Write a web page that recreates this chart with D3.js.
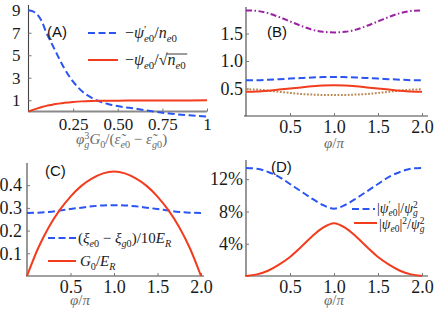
<!DOCTYPE html>
<html><head><meta charset="utf-8">
<script src="https://cdn.jsdelivr.net/npm/d3@7"></script>
</head><body style="margin:0">
<svg id="c" width="443" height="316"></svg>
<script>
// ---------- data ----------
const xA = [0,0.025,0.05,0.075,0.1,0.125,0.15,0.2,0.25,0.3,0.35,0.4,0.45,0.5,0.6,0.7,0.8,0.9,1.0];
const aBlue = [9.0,8.9,8.6,8.0,7.0,6.2,5.4,3.85,2.65,1.8,1.25,0.88,0.65,0.48,0.25,0.0,-0.2,-0.34,-0.46];
const aRed  = [0,0.14,0.28,0.4,0.5,0.58,0.66,0.77,0.85,0.9,0.93,0.95,0.96,0.965,0.97,0.975,0.98,0.985,0.99];
const aYTicks = [1,3,5,7,9];
const aXTicks = [0.25,0.5,0.75,1];
const aXLabels = ["0.25","0.50","0.75","1"];

const phi = [0,0.125,0.25,0.375,0.5,0.625,0.75,0.875,1,1.125,1.25,1.375,1.5,1.625,1.75,1.875,2];
const bPurple = [1.92,1.91,1.87,1.80,1.72,1.64,1.57,1.53,1.52,1.53,1.57,1.64,1.72,1.80,1.87,1.91,1.92];
const bBlue   = [0.65,0.652,0.66,0.67,0.68,0.69,0.70,0.707,0.71,0.707,0.70,0.69,0.68,0.67,0.66,0.652,0.65];
const bRed    = [0.44,0.445,0.46,0.48,0.50,0.52,0.54,0.555,0.56,0.555,0.54,0.52,0.50,0.48,0.46,0.445,0.44];
const bBrown  = [0.485,0.48,0.462,0.44,0.42,0.40,0.39,0.382,0.38,0.382,0.39,0.40,0.42,0.44,0.462,0.48,0.485];
const bYTicks = [0.5,1.0,1.5];
const phiTicks = [0.5,1.0,1.5,2.0];

const cRed  = [0,0.12,0.215,0.29,0.35,0.397,0.43,0.452,0.46,0.452,0.43,0.397,0.35,0.29,0.215,0.12,0];
const cBlue = [0.278,0.279,0.282,0.288,0.295,0.301,0.307,0.311,0.312,0.311,0.307,0.301,0.295,0.288,0.282,0.279,0.278];
const cYTicks = [0.1,0.2,0.3,0.4];

const dBlue = [13.4,13.3,12.9,12.3,11.4,10.5,9.6,8.8,8.35,8.8,9.6,10.5,11.4,12.3,12.9,13.3,13.4];
const dRed  = [0,0.2,0.65,1.4,2.35,3.6,4.9,6.0,6.55,6.0,4.9,3.6,2.35,1.4,0.65,0.2,0];
const dYTicks = [4,8,12];

// ---------- style ----------
const BLUE = "#2b55f2", RED = "#f23c1e", PURPLE = "#9a22a2", BROWN = "#b98850";
const SERIF = '"Liberation Serif"';
const SANS = '"Liberation Sans"';
const AX = "#444", TICKTXT = "#1a1a1a", TITLE = "#6a6a6a";

const svg = d3.select("#c");

// parts: [text, flags]  i=italic b=subscript p=superscript k=stack under/over previous
function math(sel, x, y, parts, fs, fill) {
  const t = sel.append("text").attr("x", x).attr("y", y)
    .style("font-family", SERIF).style("font-size", fs + "px").attr("fill", fill);
  let cur = 0, prev = null;
  parts.forEach(([s, st]) => {
    st = st || "";
    const off = st.includes("b") ? fs*0.25 : st.includes("p") ? -fs*0.33 : 0;
    const sp = t.append("tspan").attr("dy", off - cur).style("font-family", SERIF).text(s);
    cur = off;
    if (st.includes("b") || st.includes("p")) sp.style("font-size", (fs*0.68) + "px");
    if (st.includes("i")) sp.style("font-style", "italic");
    if (st.includes("k") && prev) sp.attr("dx", -prev.node().getComputedTextLength());
    prev = sp;
  });
  return t;
}

function panel(opt) {
  const g = svg.append("g");
  const x = d3.scaleLinear().domain(opt.xd).range(opt.xr);
  const y = d3.scaleLinear().domain(opt.yd).range(opt.yr);
  g.append("line").attr("x1", opt.xr[0]).attr("x2", opt.xr[0])
    .attr("y1", opt.yTop).attr("y2", opt.yBot).attr("stroke", AX).attr("stroke-width", 1.1);
  g.append("line").attr("x1", opt.xLeft).attr("x2", opt.xRight)
    .attr("y1", y(0)).attr("y2", y(0))
    .attr("stroke", opt.xAxisColor || AX).attr("stroke-width", opt.xAxisWidth || 1.1);
  const yt = g.append("g").attr("transform", `translate(${opt.xr[0]},0)`)
    .call(d3.axisLeft(y).tickValues(opt.yTicks).tickSize(-3).tickPadding(opt.yPad || 5)
      .tickFormat((d,i) => opt.yLabels[i]));
  const xt = g.append("g").attr("transform", `translate(0,${y(0)})`)
    .call(d3.axisBottom(x).tickValues(opt.xTicks).tickSize(-3).tickPadding(opt.xPad || 6)
      .tickFormat((d,i) => opt.xLabels[i]));
  [yt, xt].forEach(a => {
    a.attr("font-family", null).attr("font-size", null);
    a.select(".domain").remove();
    a.selectAll(".tick line").attr("stroke", "#777");
    a.selectAll(".tick text").style("font-family", SERIF).style("font-size", opt.fs + "px")
      .attr("fill", TICKTXT);
  });
  return {g, x, y};
}

function curve(p, xs, ys, color, dash, w) {
  const line = d3.line().x((d,i) => p.x(xs[i])).y(d => p.y(d)).curve(d3.curveMonotoneX);
  p.g.append("path").datum(ys).attr("d", line).attr("fill", "none")
    .attr("stroke", color).attr("stroke-width", w || 2)
    .attr("stroke-dasharray", dash || null);
}

function legLine(g, x1, x2, y, color, dash) {
  g.append("line").attr("x1", x1).attr("x2", x2).attr("y1", y).attr("y2", y)
    .attr("stroke", color).attr("stroke-width", 2).attr("stroke-dasharray", dash || null);
}

function label(g, x, y, s) {
  g.append("text").attr("x", x).attr("y", y).style("font-family", SANS)
    .style("font-size", "15px").attr("fill", "#111").text(s);
}

// ---------- Panel A ----------
const A = panel({xd:[0,1], xr:[28.5,207], yd:[0,9], yr:[111.5,10.25],
  yTop:5, yBot:112, xLeft:28.5, xRight:207, xAxisColor:"#8a8a8a", xAxisWidth:2.2,
  yTicks:aYTicks, yLabels:aYTicks.map(String), xTicks:aXTicks, xLabels:aXLabels, fs:17, yPad:8, xPad:6});
curve(A, xA, aBlue, BLUE, "7,3.5");
curve(A, xA, aRed, RED);
label(A.g, 47, 37, "(A)");
legLine(A.g, 88, 119, 33, BLUE, "7,3.5");
math(A.g, 125, 38, [["−"],["ψ","i"],["′","p"],["e","ibk"],["0","b"],["/"],["n","i"],["e","ib"],["0","b"]], 16, "#222");
legLine(A.g, 88, 118, 60, RED);
const t2 = math(A.g, 125, 65, [["−"],["ψ","i"],["e","ib"],["0","b"],["/√"]], 16, "#222");
const w2 = t2.node().getComputedTextLength();
const t3 = math(A.g, 125 + w2, 65, [["n","i"],["e","ib"],["0","b"]], 16, "#222");
const bb3 = t3.node().getBBox();
A.g.append("line").attr("x1", bb3.x - 1).attr("x2", bb3.x + bb3.width + 1)
  .attr("y1", 54).attr("y2", 54).attr("stroke", "#222").attr("stroke-width", 0.9);
math(A.g, 76, 144, [["φ","i"],["g","ib"],["3","pk"],["G","i"],["0","b"],["/("],["ε̃","i"],["e","ib"],["0","b"],[" − "],["ε̃","i"],["g","ib"],["0","b"],[")"]], 15, TITLE);

// ---------- Panel B ----------
const B = panel({xd:[0,2], xr:[246,422], yd:[0,1.9], yr:[116,11.5],
  yTop:7, yBot:116, xLeft:244, xRight:428,
  yTicks:bYTicks, yLabels:["0.5","1.0","1.5"], xTicks:phiTicks, xLabels:["0.5","1.0","1.5","2.0"], fs:18, yPad:3, xPad:4});
curve(B, phi, bPurple, PURPLE, "6,2.5,1.5,2.5");
curve(B, phi, bBlue, BLUE, "7,3.5");
curve(B, phi, bBrown, BROWN, "1.8,1.6");
curve(B, phi, bRed, RED);
label(B.g, 267, 37, "(B)");
math(B.g, 324, 148, [["φ","i"],["/"],["π","i"]], 15, TITLE);

// ---------- Panel C ----------
const C = panel({xd:[0,2], xr:[27,201], yd:[0,0.4], yr:[276,185.2],
  yTop:163, yBot:276, xLeft:26, xRight:204,
  yTicks:cYTicks, yLabels:["0.1","0.2","0.3","0.4"], xTicks:phiTicks, xLabels:["0.5","1.0","1.5","2.0"], fs:18, yPad:5, xPad:4});
curve(C, phi, cBlue, BLUE, "7,3.5");
curve(C, phi, cRed, RED);
label(C.g, 45, 176, "(C)");
legLine(C.g, 48, 76, 238, BLUE, "7,3.5");
math(C.g, 78, 243, [["("],["ξ","i"],["e","ib"],["0","b"],[" − "],["ξ","i"],["g","ib"],["0","b"],[")/10"],["E","i"],["R","ib"]], 15, "#222");
legLine(C.g, 48, 76, 261, RED);
math(C.g, 80, 266, [["G","i"],["0","b"],["/"],["E","i"],["R","ib"]], 15, "#222");
math(C.g, 70, 305, [["φ","i"],["/"],["π","i"]], 15, TITLE);

// ---------- Panel D ----------
const D = panel({xd:[0,2], xr:[246,422], yd:[0,12], yr:[276,179.2],
  yTop:160, yBot:276, xLeft:245, xRight:428,
  yTicks:dYTicks, yLabels:["4%","8%","12%"], xTicks:phiTicks, xLabels:["0.5","1.0","1.5","2.0"], fs:18, yPad:3, xPad:4});
curve(D, phi, dBlue, BLUE, "7,3.5");
curve(D, phi, dRed, RED);
label(D.g, 271, 172, "(D)");
legLine(D.g, 352, 375, 209, BLUE, "7,3.5");
math(D.g, 377, 212.5, [["|"],["ψ","i"],["′","p"],["e","ibk"],["0","b"],["|/"],["ψ","i"],["g","ib"],["2","pk"]], 14, "#222");
legLine(D.g, 354, 377, 223, RED);
math(D.g, 379, 228.5, [["|"],["ψ","i"],["e","ib"],["0","b"],["|"],["2","p"],["/"],["ψ","i"],["g","ib"],["2","pk"]], 14, "#222");
math(D.g, 324, 305, [["φ","i"],["/"],["π","i"]], 15, TITLE);
</script>
</body></html>
